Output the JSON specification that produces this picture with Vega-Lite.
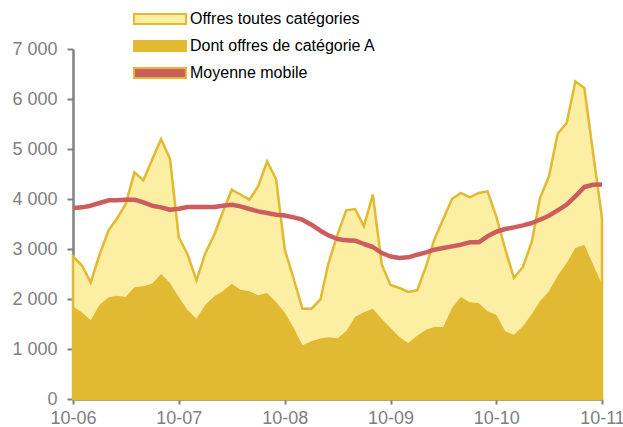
{
  "$schema": "https://vega.github.io/schema/vega-lite/v6.json",
  "width": 529,
  "height": 350,
  "autosize": {"type": "none"},
  "padding": {"left": 73, "top": 49, "right": 21, "bottom": 28},
  "background": "white",
  "config": {"view": {"stroke": null}, "font": "Liberation Sans"},
  "data": {"values": [
    {"month": "2006-10-01", "total": 2850, "catA": 1850, "mm": 3820},
    {"month": "2006-11-01", "total": 2670, "catA": 1730, "mm": 3833},
    {"month": "2006-12-01", "total": 2330, "catA": 1575, "mm": 3866},
    {"month": "2007-01-01", "total": 2890, "catA": 1886, "mm": 3920},
    {"month": "2007-02-01", "total": 3380, "catA": 2033, "mm": 3973},
    {"month": "2007-03-01", "total": 3600, "catA": 2066, "mm": 3973},
    {"month": "2007-04-01", "total": 3900, "catA": 2040, "mm": 3986},
    {"month": "2007-05-01", "total": 4533, "catA": 2233, "mm": 3986},
    {"month": "2007-06-01", "total": 4373, "catA": 2253, "mm": 3933},
    {"month": "2007-07-01", "total": 4786, "catA": 2306, "mm": 3866},
    {"month": "2007-08-01", "total": 5200, "catA": 2500, "mm": 3833},
    {"month": "2007-09-01", "total": 4800, "catA": 2320, "mm": 3786},
    {"month": "2007-10-01", "total": 3240, "catA": 2040, "mm": 3806},
    {"month": "2007-11-01", "total": 2886, "catA": 1773, "mm": 3840},
    {"month": "2007-12-01", "total": 2373, "catA": 1606, "mm": 3840},
    {"month": "2008-01-01", "total": 2920, "catA": 1886, "mm": 3840},
    {"month": "2008-02-01", "total": 3290, "catA": 2053, "mm": 3840},
    {"month": "2008-03-01", "total": 3740, "catA": 2153, "mm": 3866},
    {"month": "2008-04-01", "total": 4186, "catA": 2306, "mm": 3886},
    {"month": "2008-05-01", "total": 4090, "catA": 2186, "mm": 3853},
    {"month": "2008-06-01", "total": 3986, "catA": 2153, "mm": 3800},
    {"month": "2008-07-01", "total": 4253, "catA": 2073, "mm": 3753},
    {"month": "2008-08-01", "total": 4753, "catA": 2120, "mm": 3720},
    {"month": "2008-09-01", "total": 4400, "catA": 1933, "mm": 3686},
    {"month": "2008-10-01", "total": 2990, "catA": 1730, "mm": 3670},
    {"month": "2008-11-01", "total": 2400, "catA": 1420, "mm": 3633},
    {"month": "2008-12-01", "total": 1806, "catA": 1073, "mm": 3586},
    {"month": "2009-01-01", "total": 1806, "catA": 1153, "mm": 3486},
    {"month": "2009-02-01", "total": 1986, "catA": 1210, "mm": 3366},
    {"month": "2009-03-01", "total": 2720, "catA": 1236, "mm": 3273},
    {"month": "2009-04-01", "total": 3286, "catA": 1213, "mm": 3200},
    {"month": "2009-05-01", "total": 3773, "catA": 1353, "mm": 3173},
    {"month": "2009-06-01", "total": 3800, "catA": 1646, "mm": 3166},
    {"month": "2009-07-01", "total": 3453, "catA": 1733, "mm": 3100},
    {"month": "2009-08-01", "total": 4086, "catA": 1803, "mm": 3040},
    {"month": "2009-09-01", "total": 2686, "catA": 1600, "mm": 2920},
    {"month": "2009-10-01", "total": 2280, "catA": 1420, "mm": 2850},
    {"month": "2009-11-01", "total": 2220, "catA": 1240, "mm": 2820},
    {"month": "2009-12-01", "total": 2140, "catA": 1120, "mm": 2833},
    {"month": "2010-01-01", "total": 2173, "catA": 1266, "mm": 2886},
    {"month": "2010-02-01", "total": 2660, "catA": 1386, "mm": 2933},
    {"month": "2010-03-01", "total": 3186, "catA": 1440, "mm": 2986},
    {"month": "2010-04-01", "total": 3600, "catA": 1440, "mm": 3020},
    {"month": "2010-05-01", "total": 4000, "catA": 1820, "mm": 3053},
    {"month": "2010-06-01", "total": 4120, "catA": 2040, "mm": 3086},
    {"month": "2010-07-01", "total": 4033, "catA": 1933, "mm": 3133},
    {"month": "2010-08-01", "total": 4120, "catA": 1920, "mm": 3133},
    {"month": "2010-09-01", "total": 4153, "catA": 1753, "mm": 3253},
    {"month": "2010-10-01", "total": 3650, "catA": 1686, "mm": 3345},
    {"month": "2010-11-01", "total": 3000, "catA": 1353, "mm": 3400},
    {"month": "2010-12-01", "total": 2420, "catA": 1286, "mm": 3433},
    {"month": "2011-01-01", "total": 2640, "catA": 1453, "mm": 3473},
    {"month": "2011-02-01", "total": 3153, "catA": 1700, "mm": 3520},
    {"month": "2011-03-01", "total": 4020, "catA": 1953, "mm": 3586},
    {"month": "2011-04-01", "total": 4453, "catA": 2153, "mm": 3666},
    {"month": "2011-05-01", "total": 5306, "catA": 2466, "mm": 3773},
    {"month": "2011-06-01", "total": 5520, "catA": 2720, "mm": 3886},
    {"month": "2011-07-01", "total": 6353, "catA": 3020, "mm": 4053},
    {"month": "2011-08-01", "total": 6220, "catA": 3086, "mm": 4240},
    {"month": "2011-09-01", "total": 4890, "catA": 2686, "mm": 4286},
    {"month": "2011-10-01", "total": 3620, "catA": 2286, "mm": 4290}
  ]},
  "encoding": {
    "x": {
      "field": "month",
      "type": "temporal",
      "title": null,
      "scale": {
        "type": "utc",
        "nice": false,
        "domain": [
          {"year": 2006, "month": 10, "date": 1, "utc": true},
          {"year": 2011, "month": 10, "date": 1, "utc": true}
        ]
      },
      "axis": {
        "values": [
          {"year": 2006, "month": 10, "date": 1, "utc": true},
          {"year": 2007, "month": 10, "date": 1, "utc": true},
          {"year": 2008, "month": 10, "date": 1, "utc": true},
          {"year": 2009, "month": 10, "date": 1, "utc": true},
          {"year": 2010, "month": 10, "date": 1, "utc": true},
          {"year": 2011, "month": 10, "date": 1, "utc": true}
        ],
        "format": "%m-%y",
        "grid": false,
        "domainColor": "#808080",
        "domainWidth": 2.5,
        "tickColor": "#808080",
        "tickWidth": 2,
        "tickSize": 5,
        "labelColor": "#808080",
        "labelFontSize": 18,
        "labelFont": "Liberation Sans",
        "labelPadding": 5,
        "labelFlush": false,
        "labelOverlap": false
      }
    }
  },
  "layer": [
    {
      "mark": {"type": "area", "stroke": "#E1B932", "strokeWidth": 2.5, "strokeJoin": "miter"},
      "encoding": {
        "y": {
          "field": "total",
          "type": "quantitative",
          "title": null,
          "scale": {"domain": [0, 7000], "nice": false},
          "axis": {
            "values": [0, 1000, 2000, 3000, 4000, 5000, 6000, 7000],
            "labelExpr": "replace(format(datum.value, ','), ',', ' ')",
            "grid": false,
            "domainColor": "#808080",
            "domainWidth": 2.5,
            "tickColor": "#808080",
            "tickWidth": 2,
            "tickSize": 6,
            "labelColor": "#808080",
            "labelFontSize": 18,
            "labelFont": "Liberation Sans",
            "labelPadding": 10
          }
        },
        "fill": {
          "datum": "Offres toutes catégories",
          "type": "nominal",
          "scale": {
            "domain": ["Offres toutes catégories", "Dont offres de catégorie A", "Moyenne mobile"],
            "range": ["#FCEEA3", "#E1B932", "#CD5C5C"]
          },
          "legend": {
            "title": null,
            "orient": "none",
            "legendX": 76,
            "legendY": -41,
            "direction": "vertical",
            "padding": 0,
            "symbolType": "M-2.6,-0.5H2.6V0.5H-2.6Z",
            "symbolSize": 400,
            "symbolStrokeWidth": 2,
            "labelFontSize": 16,
            "labelColor": "black",
            "labelFont": "Liberation Sans",
            "labelOffset": 19,
            "labelLimit": 400,
            "rowPadding": 7,
            "encode": {
              "symbols": {
                "update": {
                  "stroke": {"signal": "datum.value === 'Moyenne mobile' ? '#CD5C5C' : '#E1B932'"},
                  "shape": {"signal": "datum.value === 'Moyenne mobile' ? 'M-2.6,-0.15H2.6V0.15H-2.6Z' : 'M-2.6,-0.5H2.6V0.5H-2.6Z'"},
                  "opacity": {"value": 1}
                }
              }
            }
          }
        }
      }
    },
    {
      "mark": {"type": "area"},
      "encoding": {
        "y": {"field": "catA", "type": "quantitative"},
        "fill": {"datum": "Dont offres de catégorie A", "type": "nominal"}
      }
    },
    {
      "mark": {"type": "line", "color": "#CD5C5C", "strokeWidth": 4.5, "strokeJoin": "round"},
      "encoding": {
        "y": {"field": "mm", "type": "quantitative"}
      }
    }
  ]
}
